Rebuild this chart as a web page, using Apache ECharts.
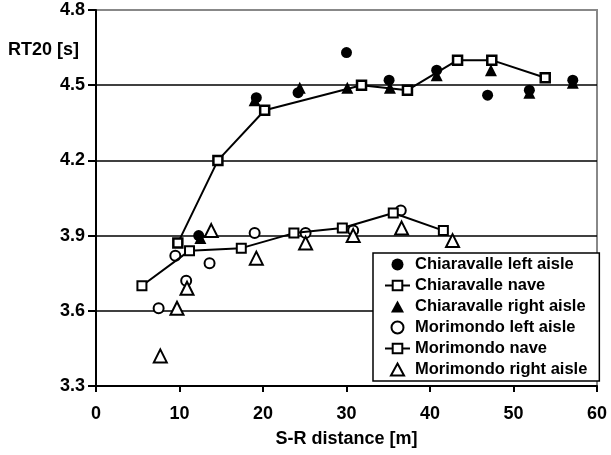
<!DOCTYPE html>
<html>
<head>
<meta charset="utf-8">
<script src="https://cdn.jsdelivr.net/npm/echarts@6/dist/echarts.min.js"></script>
<style>
html, body { margin: 0; padding: 0; background: #fff; }
#main { width: 611px; height: 455px; }
</style>
</head>
<body>
<div id="main"></div>
<script>
var xTicks = [0, 10, 20, 30, 40, 50, 60];
var yTicks = [3.3, 3.6, 3.9, 4.2, 4.5, 4.8];

var chiaravalleLeftX = [12.3, 19.2, 24.2, 30.0, 35.1, 40.8, 46.9, 51.9, 57.1];
var chiaravalleLeftY = [3.90, 4.45, 4.47, 4.63, 4.52, 4.56, 4.46, 4.48, 4.52];

var chiaravalleNaveX = [9.8, 14.6, 20.2, 31.8, 37.3, 43.3, 47.4, 53.8];
var chiaravalleNaveY = [3.87, 4.20, 4.40, 4.50, 4.48, 4.60, 4.60, 4.53];

var chiaravalleRightX = [12.5, 19.0, 24.4, 30.1, 35.2, 40.8, 47.3, 51.9, 57.1];
var chiaravalleRightY = [3.89, 4.44, 4.49, 4.49, 4.49, 4.54, 4.56, 4.47, 4.51];

var morimondoLeftX = [7.5, 9.5, 10.8, 13.6, 19.0, 25.1, 30.8, 36.5];
var morimondoLeftY = [3.61, 3.82, 3.72, 3.79, 3.91, 3.91, 3.92, 4.00];

var morimondoNaveX = [5.5, 11.2, 17.4, 23.7, 29.5, 35.6, 41.6];
var morimondoNaveY = [3.70, 3.84, 3.85, 3.91, 3.93, 3.99, 3.92];

var morimondoRightX = [7.7, 9.7, 10.9, 13.8, 19.2, 25.1, 30.8, 36.6, 42.7];
var morimondoRightY = [3.42, 3.61, 3.69, 3.92, 3.81, 3.87, 3.90, 3.93, 3.88];

function pairs(xs, ys) {
  var out = [];
  for (var i = 0; i < xs.length; i++) {
    out.push([xs[i], ys[i]]);
  }
  return out;
}

var font = "'Liberation Sans', Arial, sans-serif";
var triIcon = 'path://M6,0L12,11L0,11Z';
var chart = echarts.init(document.getElementById('main'));

var option = {
  backgroundColor: '#fff',
  animation: false,
  title: {
    text: 'RT20 [s]',
    left: 8,
    top: 41,
    padding: 0,
    textStyle: { fontFamily: font, fontSize: 18, fontWeight: 'bold', color: '#000' }
  },
  grid: {
    left: 96,
    right: 14,
    top: 10,
    bottom: 69,
    show: true,
    borderColor: '#888',
    borderWidth: 2,
    backgroundColor: '#fff'
  },
  legend: {
    orient: 'vertical',
    left: 373,
    top: 253,
    padding: [3, 12, 3, 11],
    itemGap: 4,
    itemWidth: 25,
    itemHeight: 12,
    symbolKeepAspect: true,
    backgroundColor: '#fff',
    borderColor: '#000',
    borderWidth: 1.5,
    textStyle: { fontFamily: font, fontSize: 16.5, fontWeight: 'bold', color: '#000', lineHeight: 16 },
    data: [
      { name: 'Chiaravalle left aisle' },
      { name: 'Chiaravalle nave' },
      { name: 'Chiaravalle right aisle', icon: triIcon },
      { name: 'Morimondo left aisle' },
      { name: 'Morimondo nave' },
      { name: 'Morimondo right aisle', icon: triIcon }
    ]
  },
  xAxis: {
    type: 'value',
    min: xTicks[0],
    max: xTicks[xTicks.length - 1],
    interval: 10,
    name: 'S-R distance [m]',
    nameLocation: 'middle',
    nameGap: 44,
    nameTextStyle: { fontFamily: font, fontSize: 18, fontWeight: 'bold', color: '#000' },
    axisLine: { show: true, onZero: false, lineStyle: { color: '#000', width: 2 } },
    axisTick: { show: true, inside: false, length: 6, lineStyle: { color: '#000', width: 2 } },
    axisLabel: { margin: 19, fontFamily: font, fontSize: 18, fontWeight: 'bold', color: '#000' },
    splitLine: { show: false }
  },
  yAxis: {
    type: 'value',
    min: yTicks[0],
    max: yTicks[yTicks.length - 1],
    interval: 0.3,
    axisLine: { show: true, onZero: false, lineStyle: { color: '#000', width: 2 } },
    axisTick: { show: true, inside: false, length: 8, lineStyle: { color: '#000', width: 2 } },
    axisLabel: {
      margin: 11,
      fontFamily: font,
      fontSize: 18,
      fontWeight: 'bold',
      color: '#000',
      formatter: function(v) { return v.toFixed(1); }
    },
    splitLine: { show: true, showMinLine: false, showMaxLine: false, lineStyle: { color: '#000', width: 1.5 } }
  },
  series: [{
    name: 'Chiaravalle left aisle',
    type: 'scatter',
    symbol: 'circle',
    symbolSize: 11,
    itemStyle: { color: '#000', opacity: 1 },
    data: pairs(chiaravalleLeftX, chiaravalleLeftY)
  }, {
    name: 'Chiaravalle nave',
    type: 'line',
    symbol: 'rect',
    symbolSize: 9,
    showAllSymbol: true,
    lineStyle: { color: '#000', width: 2 },
    itemStyle: { color: '#fff', borderColor: '#000', borderWidth: 2.5, opacity: 1 },
    data: pairs(chiaravalleNaveX, chiaravalleNaveY)
  }, {
    name: 'Chiaravalle right aisle',
    type: 'scatter',
    symbol: 'triangle',
    symbolSize: 12,
    itemStyle: { color: '#000', opacity: 1 },
    data: pairs(chiaravalleRightX, chiaravalleRightY)
  }, {
    name: 'Morimondo left aisle',
    type: 'scatter',
    symbol: 'circle',
    symbolSize: 10,
    itemStyle: { color: '#fff', borderColor: '#000', borderWidth: 2, opacity: 1 },
    data: pairs(morimondoLeftX, morimondoLeftY)
  }, {
    name: 'Morimondo nave',
    type: 'line',
    symbol: 'rect',
    symbolSize: 9,
    showAllSymbol: true,
    lineStyle: { color: '#000', width: 2 },
    itemStyle: { color: '#fff', borderColor: '#000', borderWidth: 2, opacity: 1 },
    data: pairs(morimondoNaveX, morimondoNaveY)
  }, {
    name: 'Morimondo right aisle',
    type: 'scatter',
    symbol: 'triangle',
    symbolSize: 13,
    itemStyle: { color: '#fff', borderColor: '#000', borderWidth: 2, opacity: 1 },
    data: pairs(morimondoRightX, morimondoRightY)
  }]
};

chart.setOption(option);
</script>
</body>
</html>
